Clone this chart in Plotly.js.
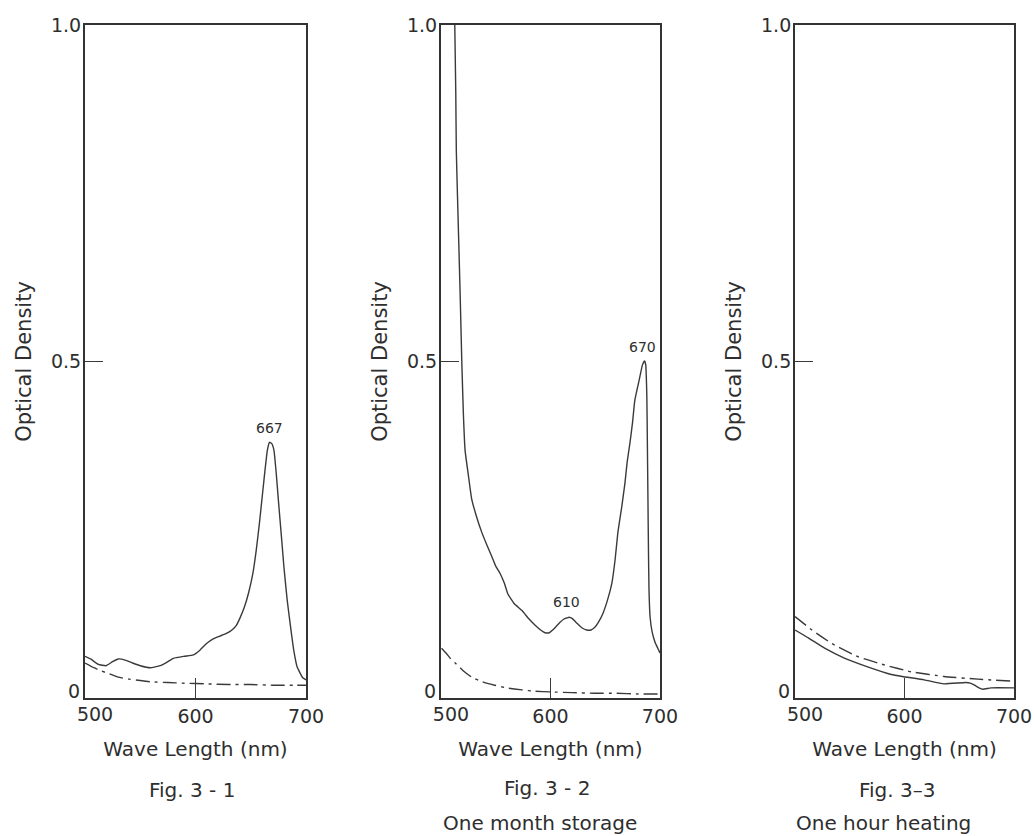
<!DOCTYPE html>
<html>
<head>
<meta charset="utf-8">
<script src="https://cdn.plot.ly/plotly-3.0.1.min.js"></script>
<style>html,body{margin:0;padding:0;background:#fff;}#chart{width:1035px;height:836px;}</style>
</head>
<body>
<div id="chart"></div>
<script>
// ---- Data (wavelength in nm, optical density) ----
// Fig. 3-1
const fig1SolidX = [500, 505, 512, 519, 525, 530, 537, 543, 550, 559, 568, 574, 580, 590, 598, 604, 610, 616, 622, 628, 633, 637, 640, 644, 648, 652, 655, 658, 661, 663, 665, 667, 669, 671, 673, 675, 678, 680, 683, 686, 689, 692, 695, 697, 700];
const fig1SolidY = [0.062, 0.058, 0.050, 0.048, 0.054, 0.058, 0.056, 0.052, 0.048, 0.045, 0.048, 0.053, 0.059, 0.062, 0.064, 0.071, 0.081, 0.088, 0.092, 0.096, 0.101, 0.108, 0.118, 0.134, 0.156, 0.186, 0.220, 0.262, 0.309, 0.340, 0.368, 0.380, 0.378, 0.368, 0.335, 0.294, 0.235, 0.195, 0.145, 0.106, 0.070, 0.046, 0.036, 0.030, 0.027];
const fig1DashX = [500, 508, 515, 522, 530, 540, 550, 560, 575, 590, 610, 630, 650, 670, 690, 700];
const fig1DashY = [0.052, 0.045, 0.040, 0.036, 0.031, 0.028, 0.026, 0.024, 0.023, 0.022, 0.021, 0.020, 0.020, 0.019, 0.019, 0.019];

// Fig. 3-2 (one month storage)
const fig2SolidX = [512.6, 513.5, 514, 515, 516, 517.5, 519, 520.5, 522, 525, 528, 532, 537.5, 542, 546.5, 550, 554, 558, 561, 567, 574, 580, 586, 591, 595, 599, 602, 605, 608.5, 612, 615, 617, 620, 623, 625, 629, 633, 637, 640.5, 644, 648, 652, 656, 659, 661.5, 665, 668, 670, 672.5, 675, 677, 680, 682, 684, 686, 687, 688, 688.5, 689, 689.5, 690, 691, 693, 695.5, 698, 700];
const fig2SolidY = [1.0, 0.9, 0.813, 0.75, 0.69, 0.6, 0.5, 0.42, 0.368, 0.331, 0.296, 0.272, 0.245, 0.227, 0.210, 0.196, 0.185, 0.170, 0.155, 0.140, 0.130, 0.118, 0.108, 0.101, 0.097, 0.097, 0.101, 0.106, 0.112, 0.117, 0.119, 0.120, 0.118, 0.113, 0.110, 0.104, 0.101, 0.101, 0.105, 0.113, 0.126, 0.145, 0.170, 0.205, 0.245, 0.283, 0.319, 0.35, 0.378, 0.41, 0.442, 0.465, 0.48, 0.495, 0.501, 0.495, 0.45, 0.38, 0.30, 0.22, 0.16, 0.12, 0.097, 0.083, 0.074, 0.067];
const fig2DashX = [500.5, 505, 509, 513, 520, 528, 538, 549, 560, 574, 586, 600, 620, 640, 660, 680, 700];
const fig2DashY = [0.074, 0.066, 0.058, 0.052, 0.041, 0.031, 0.024, 0.019, 0.015, 0.012, 0.010, 0.009, 0.008, 0.007, 0.007, 0.006, 0.006];

// Fig. 3-3 (one hour heating)
const fig3SolidX = [500, 512.5, 527, 545.5, 567, 588, 598, 618, 636, 656, 660, 664, 668, 671.5, 679, 700];
const fig3SolidY = [0.101, 0.089, 0.074, 0.059, 0.046, 0.035, 0.032, 0.027, 0.021, 0.023, 0.022, 0.019, 0.015, 0.013, 0.015, 0.015];
const fig3DashX = [500, 515.5, 533.6, 558, 582, 606, 636, 667, 700];
const fig3DashY = [0.121, 0.101, 0.081, 0.061, 0.049, 0.039, 0.032, 0.028, 0.025];

// Axis ticks (the corner labels "500" and "0" are drawn by overlay axes)
const xTickVals = [500, 600, 700];
const xTickText = ['500', '600', '700'];
const yTickVals = [0, 0.5, 1.0];
const yTickText = ['0', '0.5', '1.0'];

// Peak labels
const peakLabels = [
  {text: '667', x: 667, y: 0.386, ax: 'x', ay: 'y'},
  {text: '670', x: 683.6, y: 0.507, ax: 'x2', ay: 'y2'},
  {text: '610', x: 615, y: 0.128, ax: 'x2', ay: 'y2'}
];
// Captions
const captions = [
  {text: 'Fig. 3 - 1', x: 597, y: -0.137, ax: 'x'},
  {text: 'Fig. 3 - 2', x: 597, y: -0.134, ax: 'x2'},
  {text: 'One month storage', x: 590.5, y: -0.186, ax: 'x2'},
  {text: 'Fig. 3\u20133', x: 593, y: -0.137, ax: 'x3'},
  {text: 'One hour heating', x: 581, y: -0.186, ax: 'x3'}
];

// ---- Styles ----
const FONT = 'DejaVu Sans, Liberation Sans, sans-serif';
const TXT = '#2e2e2e';
const LINE = '#3a3a3a';
const solidLine = {color: LINE, width: 1.4, shape: 'spline', smoothing: 0.4};
const dashLine = {color: LINE, width: 1.4, dash: '14px,5px,3px,5px', shape: 'spline', smoothing: 0.4};
const tickFont = {family: FONT, size: 19, color: TXT};

function tr(x, y, line, xa, ya, name) {
  return {x: x, y: y, mode: 'lines', line: line, xaxis: xa, yaxis: ya, name: name,
          showlegend: false, hoverinfo: 'x+y'};
}
const data = [
  tr(fig1SolidX, fig1SolidY, solidLine, 'x', 'y', 'Fig. 3-1'),
  tr(fig1DashX, fig1DashY, dashLine, 'x', 'y', 'Fig. 3-1 (control)'),
  tr(fig2SolidX, fig2SolidY, solidLine, 'x2', 'y2', 'Fig. 3-2'),
  tr(fig2DashX, fig2DashY, dashLine, 'x2', 'y2', 'Fig. 3-2 (control)'),
  tr(fig3SolidX, fig3SolidY, solidLine, 'x3', 'y3', 'Fig. 3-3'),
  tr(fig3DashX, fig3DashY, dashLine, 'x3', 'y3', 'Fig. 3-3 (control)')
];
// empty traces that bind the corner-label overlay axes to their panels
const pairs = [['x','y','x4','y4'], ['x2','y2','x5','y5'], ['x3','y3','x6','y6']];
pairs.forEach(p => {
  data.push({x: [], y: [], xaxis: p[2], yaxis: p[1], mode: 'lines', showlegend: false, hoverinfo: 'skip'});
  data.push({x: [], y: [], xaxis: p[0], yaxis: p[3], mode: 'lines', showlegend: false, hoverinfo: 'skip'});
});

function xAxis(domain, anchor) {
  return {domain: domain, anchor: anchor, range: [500, 700], tickmode: 'array',
    tickvals: xTickVals.slice(1), ticktext: xTickText.slice(1), ticks: 'inside', ticklen: 20, tickwidth: 1.3,
    tickcolor: LINE, showline: true, mirror: true, linewidth: 2, linecolor: '#333',
    showgrid: false, zeroline: false, tickfont: tickFont,
    title: {text: 'Wave Length (nm)', standoff: 16, font: {family: FONT, size: 20, color: TXT}},
    fixedrange: true};
}
function yAxis(anchor) {
  return {domain: [0, 1], anchor: anchor, range: [0, 1], tickmode: 'array',
    tickvals: yTickVals.slice(1), ticktext: yTickText.slice(1), ticks: 'inside', ticklen: 18, tickwidth: 1.3,
    tickcolor: LINE, showline: true, mirror: true, linewidth: 2, linecolor: '#333',
    showgrid: false, zeroline: false, tickfont: tickFont,
    ticklabelstandoff: -2,
    title: {text: 'Optical Density', standoff: 14, font: {family: FONT, size: 21, color: TXT}},
    fixedrange: true};
}
// overlay axes carrying the corner labels "500" (shifted right) and "0" (shifted up)
function xCorner(over, anchor) {
  return {overlaying: over, anchor: anchor, range: [500, 700], tickmode: 'array',
    tickvals: [xTickVals[0]], ticktext: [xTickText[0]], ticks: '', showline: false,
    showgrid: false, zeroline: false, tickfont: tickFont, ticklabelshift: 10,
    ticklabelstandoff: 3, fixedrange: true};
}
function yCorner(over, anchor) {
  return {overlaying: over, anchor: anchor, range: [0, 1], tickmode: 'array',
    tickvals: [yTickVals[0]], ticktext: [yTickText[0]], ticks: '', showline: false,
    showgrid: false, zeroline: false, tickfont: tickFont, ticklabelshift: -7,
    ticklabelstandoff: 4, fixedrange: true};
}

const annotations = [];
peakLabels.forEach(p => annotations.push({text: p.text, x: p.x, y: p.y, xref: p.ax, yref: p.ay,
  xanchor: 'center', yanchor: 'bottom', showarrow: false, font: {family: FONT, size: 14, color: TXT}}));
captions.forEach(c => annotations.push({text: c.text, x: c.x, y: c.y, xref: c.ax, yref: 'paper',
  xanchor: 'center', yanchor: 'middle', showarrow: false, font: {family: FONT, size: 20, color: TXT}}));

const layout = {
  width: 1035, height: 836,
  margin: {l: 85, r: 21, t: 25, b: 138},
  paper_bgcolor: '#fff', plot_bgcolor: '#fff',
  showlegend: false,
  xaxis: xAxis([0, 0.2379], 'y'),
  yaxis: yAxis('x'),
  xaxis2: xAxis([0.3832, 0.6189], 'y2'),
  yaxis2: yAxis('x2'),
  xaxis3: xAxis([0.7643, 1.0], 'y3'),
  yaxis3: yAxis('x3'),
  xaxis4: xCorner('x', 'y'), yaxis4: yCorner('y', 'x'),
  xaxis5: xCorner('x2', 'y2'), yaxis5: yCorner('y2', 'x2'),
  xaxis6: xCorner('x3', 'y3'), yaxis6: yCorner('y3', 'x3'),
  annotations: annotations
};

Plotly.newPlot('chart', data, layout, {displayModeBar: false, staticPlot: true});
</script>
</body>
</html>
